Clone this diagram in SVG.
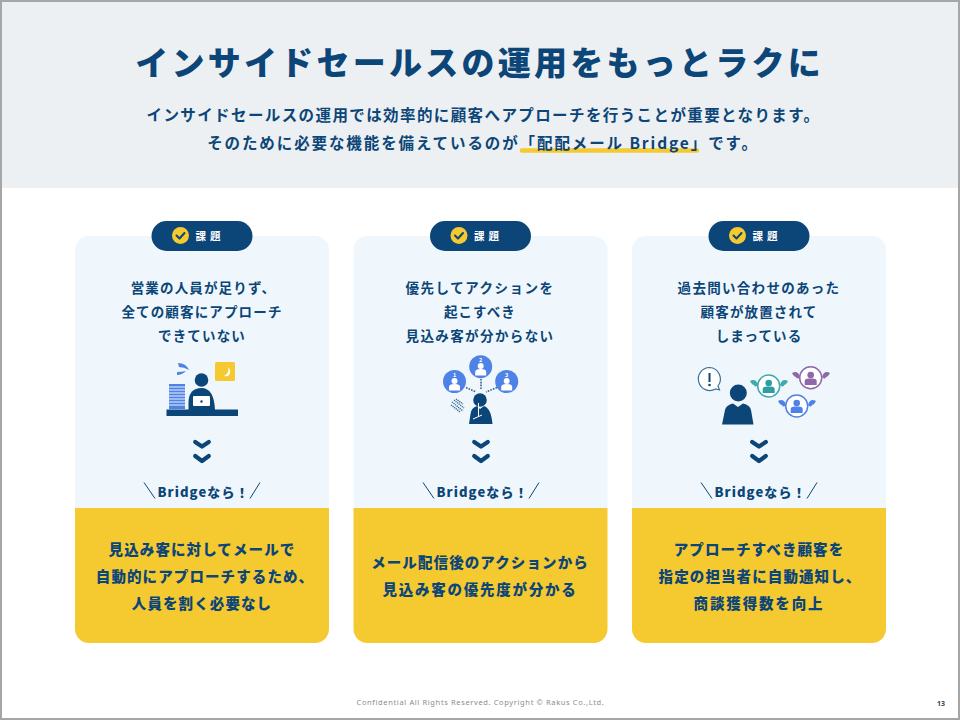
<svg xmlns="http://www.w3.org/2000/svg" width="960" height="720" viewBox="0 0 960 720">
<style>
text{font-family:"Noto Sans CJK JP","Noto Sans",sans-serif;fill:#0c4577;font-weight:700;text-anchor:middle}
.t{font-size:33px;letter-spacing:3.25px;font-weight:900}
.s{font-size:15.500px;letter-spacing:1.4px;font-weight:700}
.p{font-size:13.5px;letter-spacing:1.15px;font-weight:700}
.a{font-size:14.5px;letter-spacing:1.1px;font-weight:900}
.b{font-size:13px;letter-spacing:1.1px;font-weight:900}
.k{font-size:10.500px;letter-spacing:4px;fill:#fff;font-weight:700}
.f{font-size:7.5px;letter-spacing:.63px;fill:#8c8c8c;font-weight:400;font-family:"Noto Sans",sans-serif}
.card{fill:#eff7fc}
.y{fill:#f5c930}
.n{fill:#0c4577}
.chev{fill:none;stroke:#0c4577;stroke-width:4.2;stroke-linecap:round;stroke-linejoin:round}
.sl{stroke:#0c4577;stroke-width:1;fill:none}
.w{fill:#fff}
.dot{stroke:#2f5f8a;stroke-width:1.6;stroke-dasharray:1.6 1.2;fill:none}
</style>
<defs>
<g id="badge">
<rect x="-50.500" y="-15" width="101" height="30" rx="15" class="n"/>
<circle cx="-21.500" cy="-0.500" r="8.500" class="y"/>
<path d="M-25.500 -0.500L-22.500 2.500L-17.500 -3" fill="none" stroke="#0c4577" stroke-width="2" stroke-linecap="round" stroke-linejoin="round"/>
<text class="k" x="8" y="3.500">課題</text>
</g>
<g id="chevs">
<path class="chev" d="M-6.800 -4L0 .5L6.800 -4"/>
<path class="chev" d="M-6.800 10L0 15L6.800 10"/>
</g>
<g id="bridge">
<path class="sl" d="M-58 -8.500L-47 7.500M58 -8.500L48 7.500"/>
<text class="b" x="1.500" y="5.500">Bridgeなら！</text>
</g>
<g id="pin"><circle cx="0" cy="-3" r="3" class="w"/><path d="M-5.500 6.500V3Q-5.500 0 0 0Q5.500 0 5.500 3V6.500Z" class="w"/></g>
<g id="pc"><circle cx="0" cy="-4" r="3.300"/><path d="M-6 6V2Q-6 -0.500 -2 -0.500H2Q6 -0.500 6 2V6Z"/></g>
<g id="wings">
<path d="M-19 -3Q-13 -6 -11 1Q-14 4 -15 1Q-17 1 -19 -3Z"/>
<path d="M19 -3Q13 -6 11 1Q14 4 15 1Q17 1 19 -3Z"/>
</g>
</defs>
<rect width="960" height="720" fill="#fff"/>
<rect width="960" height="188" fill="#ecf0f3"/>
<rect x="1" y="1" width="958" height="718" fill="none" stroke="#a6a6a6" stroke-width="2"/>
<g id="header">
<text class="t" x="479.500" y="75">インサイドセールスの運用をもっとラクに</text>
<text class="s" x="483.500" y="120.500">インサイドセールスの運用では効率的に顧客へアプローチを行うことが重要となります。</text>
<path d="M522 150.500H697" stroke="#f5c930" stroke-width="4.500" stroke-linecap="round"/>
<text class="s" x="483" y="148.500" style="letter-spacing:1.9px">そのために必要な機能を備えているのが「配配メール Bridge」です。</text>
</g>
<g id="card1">
<path class="card" d="M75 508V250a14 14 0 0 1 14-14H315a14 14 0 0 1 14 14V508Z"/>
<path class="y" d="M75 508H329V629a14 14 0 0 1-14 14H89a14 14 0 0 1-14-14Z"/>
<use href="#badge" x="202" y="236"/>
<text class="p" x="203.500" y="293">営業の人員が足りず、</text>
<text class="p" x="202" y="317">全ての顧客にアプローチ</text>
<text class="p" x="202" y="341">できていない</text>
<g id="icon1">
<rect x="169" y="384" width="16" height="25" fill="#4f82e6"/>
<path d="M169 387H185M169 390H185M169 393H185M169 396H185M169 399H185M169 402H185M169 405H185" stroke="#fff" stroke-width=".9"/>
<path d="M178 363q8 0 11 7q-5-3-10-3zM177 372q4 0 9-1q-4 4-9 4z" fill="#4f82e6"/>
<rect x="215" y="362" width="20" height="19" rx="1.500" class="y"/>
<path d="M228 367q2 6-4 9q5 1 6-3q1-3-2-6z" fill="#fff"/>
<circle cx="201.500" cy="380" r="6.800" class="n"/>
<path d="M188.500 410V402Q189 388 201.500 388Q214 388 215 410Z" class="n"/>
<rect x="193" y="396" width="17" height="10" rx="1" class="w"/>
<circle cx="201.500" cy="401.500" r="1.200" class="n"/>
<rect x="166.500" y="409.500" width="71.500" height="6.500" class="n"/>
</g>
<use href="#chevs" x="202" y="446"/>
<use href="#bridge" x="202" y="491"/>
<text class="a" x="202" y="555">見込み客に対してメールで</text>
<text class="a" x="205" y="582">自動的にアプローチするため、</text>
<text class="a" x="202" y="609">人員を割く必要なし</text>
</g>
<g id="card2">
<path class="card" d="M353.500 508V250a14 14 0 0 1 14-14H593.500a14 14 0 0 1 14 14V508Z"/>
<path class="y" d="M353.500 508H607.500V629a14 14 0 0 1-14 14H367.500a14 14 0 0 1-14-14Z"/>
<use href="#badge" x="480.500" y="236"/>
<text class="p" x="480" y="293" style="letter-spacing:1.5px">優先してアクションを</text>
<text class="p" x="480" y="317">起こすべき</text>
<text class="p" x="480" y="341" style="letter-spacing:1.4px">見込み客が分からない</text>
<g id="icon2">
<g fill="#4f82e6"><circle cx="454.500" cy="381.500" r="11.500"/><circle cx="480.700" cy="366.700" r="11.500"/><circle cx="506.700" cy="381.500" r="11.500"/></g>
<use href="#pin" x="454.500" y="384"/><use href="#pin" x="480.700" y="369"/><use href="#pin" x="506.700" y="384"/>
<text x="454.500" y="377" style="fill:#fff;font-size:5.500px">1</text><text x="480.700" y="362" style="fill:#fff;font-size:5.500px">2</text><text x="506.700" y="377" style="fill:#fff;font-size:5.500px">3</text>
<path class="dot" d="M466 387.500L476 392M481 379V389M497 387.500L486 392"/>
<circle cx="480" cy="400" r="6.800" class="n"/>
<path d="M469 424L470.500 414Q471 408 477 406L480 409L484 406Q491 408 492.500 424Z" class="n"/>
<path d="M478.500 403V416" stroke="#fff" stroke-width="1"/>
<path d="M473 419L482 415" stroke="#fff" stroke-width="1"/>
<path d="M452 402L463 411M451 405L460 412M454 400L464 408M456 399L463 404" stroke="#3a6a8f" stroke-width="1.500" stroke-dasharray="1.200 .8"/>
</g>
<use href="#chevs" x="481" y="446"/>
<use href="#bridge" x="481" y="491"/>
<text class="a" x="480" y="568">メール配信後のアクションから</text>
<text class="a" x="480" y="595" style="letter-spacing:1.75px">見込み客の優先度が分かる</text>
</g>
<g id="card3">
<path class="card" d="M632 508V250a14 14 0 0 1 14-14H872a14 14 0 0 1 14 14V508Z"/>
<path class="y" d="M632 508H886V629a14 14 0 0 1-14 14H646a14 14 0 0 1-14-14Z"/>
<use href="#badge" x="759" y="236"/>
<text class="p" x="759" y="293" style="letter-spacing:1.3px">過去問い合わせのあった</text>
<text class="p" x="759" y="317">顧客が放置されて</text>
<text class="p" x="759" y="341">しまっている</text>
<g id="icon3">
<path d="M709.500 367.500a11.500 11.500 0 1 0 6 21.500l4 1l-1.500-4a11.500 11.500 0 0 0-8.500-18.500z" fill="#fff" stroke="#3f6f94" stroke-width="1.200"/>
<rect x="708.500" y="373" width="2" height="9" class="n"/>
<circle cx="709.500" cy="385" r="1.300" class="n"/>
<circle cx="738.300" cy="393" r="8.500" class="n"/>
<path d="M722 424.500L725 410Q726 405 733 403.500L738 407L743 403.500Q750 405 751 410L753.500 424.500Z" class="n"/>
<circle cx="768.700" cy="386" r="11" fill="#fff" stroke="#3fa9ad" stroke-width="1.500"/>
<use href="#pc" x="768.700" y="387" fill="#2e9ea4"/>
<use href="#wings" x="769" y="384" fill="#3fa9ad"/>
<circle cx="810.700" cy="377.700" r="11" fill="#fff" stroke="#8f68a8" stroke-width="1.500"/>
<use href="#pc" x="810.700" y="379" fill="#8f68a8"/>
<use href="#wings" x="811" y="376" fill="#8f68a8"/>
<circle cx="796.700" cy="406" r="11" fill="#fff" stroke="#4f82e6" stroke-width="1.500"/>
<use href="#pc" x="796.700" y="407" fill="#4f82e6"/>
<use href="#wings" x="797" y="404" fill="#4f82e6"/>
</g>
<use href="#chevs" x="759" y="446"/>
<use href="#bridge" x="759" y="491"/>
<text class="a" x="759" y="555">アプローチすべき顧客を</text>
<text class="a" x="760" y="582">指定の担当者に自動通知し、</text>
<text class="a" x="759" y="609" style="letter-spacing:1.85px">商談獲得数を向上</text>
</g>
<g id="footer">
<text class="f" x="480.500" y="705">Confidential All Rights Reserved. Copyright © Rakus Co.,Ltd.</text>
<text class="f" x="941" y="706" style="fill:#444;font-size:7px;letter-spacing:0;font-weight:700">13</text>
</g>
</svg>
